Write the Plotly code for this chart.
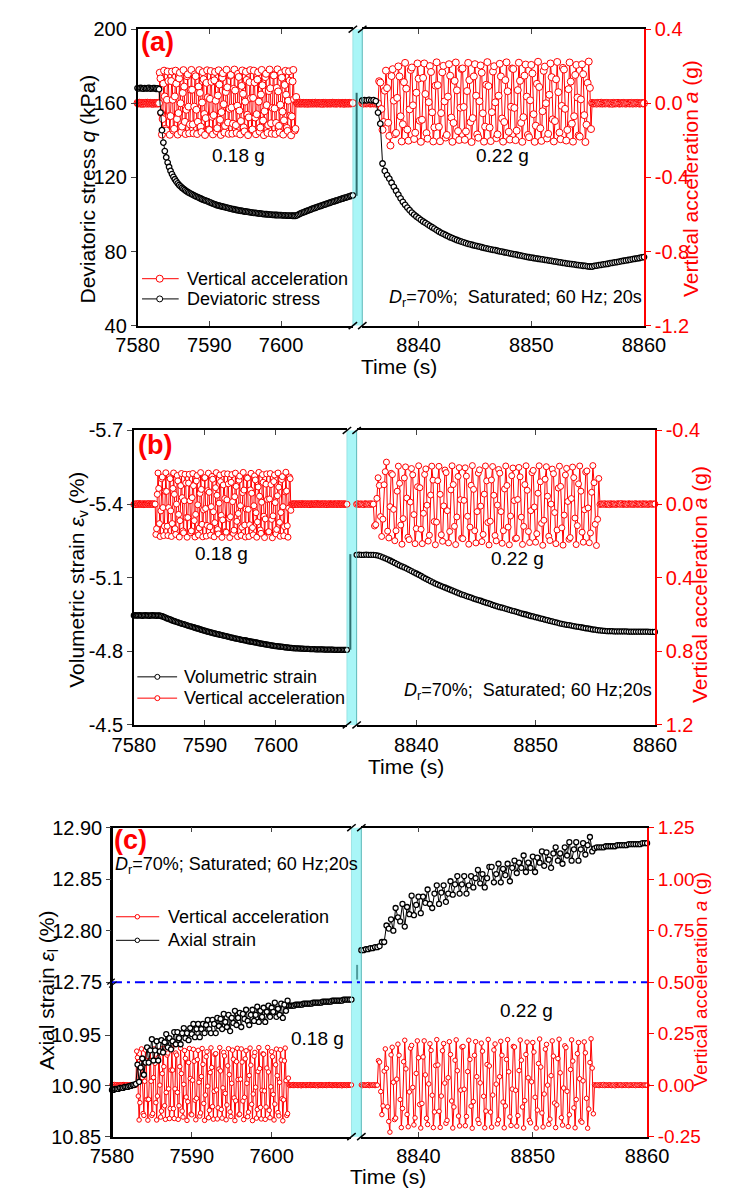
import plotly.graph_objects as go

# ---------------------------------------------------------------- data
# time bases (s): the left block of each panel starts at 7580 s, the right block at 8835 s
T_LEFT0 = 7580.0
T_RIGHT0 = 8835.0
DT_ACC = 0.1      # acceleration record step
DT_SLOW = 0.2     # stress / strain record step

# vertical acceleration a (g), first shaking event (0.18 g), from 7580.0 s
ACC_1 = [
    # quiet
    0.002, -0.001, 0.001, 0.003, -0.002, 0.000, 0.002, -0.003, 0.001, 0.000,
    -0.001, 0.002, 0.001, -0.002, 0.003, 0.000, -0.001, 0.001, 0.002, -0.002,
    0.000, 0.001, -0.003, 0.002, 0.001, -0.001, 0.000, 0.002, -0.002, 0.001,
    # shaking
    0.000, 0.165, 0.134, -0.053, -0.169, -0.085, 0.106, 0.176, 0.037, -0.138,
    -0.147, 0.019, 0.171, 0.120, -0.069, -0.170, -0.069, 0.120, 0.171, 0.019,
    -0.147, -0.138, 0.037, 0.176, 0.106, -0.085, -0.169, -0.053, 0.134, 0.165,
    0.000, -0.155, -0.126, 0.056, 0.179, 0.090, -0.100, -0.166, -0.035, 0.146,
    0.156, -0.018, -0.162, -0.114, 0.073, 0.180, 0.073, -0.114, -0.162, -0.018,
    0.156, 0.146, -0.035, -0.166, -0.100, 0.090, 0.179, 0.056, -0.126, -0.155,
    0.004, 0.168, 0.130, -0.058, -0.171, -0.080, 0.110, 0.178, 0.032, -0.141,
    -0.144, 0.024, 0.174, 0.116, -0.073, -0.168, -0.064, 0.124, 0.169, 0.014,
    -0.150, -0.135, 0.042, 0.178, 0.101, -0.089, -0.171, -0.048, 0.138, 0.162,
    -0.005, -0.158, -0.122, 0.061, 0.181, 0.086, -0.104, -0.165, -0.030, 0.149,
    0.153, -0.023, -0.164, -0.110, 0.078, 0.182, 0.069, -0.118, -0.160, -0.013,
    0.159, 0.142, -0.040, -0.168, -0.096, 0.094, 0.177, 0.051, -0.130, -0.152,
    0.009, 0.170, 0.126, -0.062, -0.172, -0.076, 0.114, 0.179, 0.027, -0.144,
    -0.141, 0.029, 0.176, 0.112, -0.077, -0.167, -0.059, 0.128, 0.167, 0.009,
    -0.153, -0.131, 0.047, 0.180, 0.097, -0.093, -0.172, -0.043, 0.141, 0.159,
    -0.010, -0.160, -0.118, 0.066, 0.182, 0.081, -0.108, -0.164, -0.025, 0.152,
    0.150, -0.028, -0.166, -0.106, 0.083, 0.183, 0.064, -0.122, -0.158, -0.008,
    0.162, 0.138, -0.045, -0.169, -0.092, 0.099, 0.175, 0.046, -0.133, -0.149,
    0.014, 0.172, 0.122, -0.066, -0.173, -0.071, 0.118, 0.180, 0.022, -0.147,
    -0.138, 0.034,
    # quiet
    0.002, -0.002, 0.001, 0.000, -0.001, 0.003, -0.002, 0.001, 0.000, 0.002,
    -0.001, -0.002, 0.001, 0.002, 0.000, -0.003, 0.001, 0.002, -0.001, 0.000,
    0.001, -0.002, 0.002, 0.000, -0.001, 0.001, 0.003, -0.002, 0.000, 0.001,
    -0.001, 0.002, 0.000, -0.002, 0.001, 0.001, -0.003, 0.002, 0.000, -0.001,
    0.002, 0.001, -0.002, 0.000, 0.001, -0.001, 0.002, -0.002, 0.001, 0.000,
    0.003, -0.001, 0.000, 0.002, -0.002, 0.001, -0.001, 0.000, 0.002, 0.001,
    -0.002, 0.000, 0.001, -0.001, 0.002, 0.000, -0.003, 0.001, 0.002, -0.001,
    0.000, 0.001, -0.002, 0.002, 0.000, -0.001, 0.001, 0.000, 0.001,
]

# vertical acceleration a (g), second shaking event (0.22 g), from 8835.0 s
ACC_2 = [
    # quiet
    0.001, -0.002, 0.002, 0.000, -0.001, 0.001, 0.003, -0.002, 0.000, 0.001,
    -0.001, 0.002, -0.002, 0.001,
    # shaking
    0.000, 0.119, 0.112, -0.031, -0.143, -0.101, 0.068, 0.176, 0.082, -0.105,
    -0.176, -0.228, 0.147, 0.184, 0.014, -0.167, -0.160, 0.029, 0.199, 0.145,
    -0.070, -0.206, -0.113, 0.114, 0.218, 0.079, -0.142, -0.202, -0.033, 0.180,
    0.193, -0.011, -0.193, -0.159, 0.057, 0.215, 0.133, -0.094, -0.208, -0.089,
    0.137, 0.215, 0.050, -0.161, -0.191,
    0.006, 0.201, 0.169, -0.049, -0.206, -0.130, 0.095, 0.221, 0.098, -0.127,
    -0.205, -0.053, 0.167, 0.202, 0.010, -0.185, -0.171, 0.036, 0.211, 0.149,
    -0.077, -0.208, -0.106, 0.121, 0.220, 0.070, -0.150, -0.198, -0.024, 0.185,
    0.188, -0.020, -0.197, -0.152, 0.066, 0.218, 0.125, -0.102, -0.209, -0.080,
    0.145, 0.211, 0.041, -0.168, -0.186,
    0.011, 0.204, 0.165, -0.054, -0.207, -0.126, 0.100, 0.222, 0.093, -0.131,
    -0.204, -0.048, 0.171, 0.200, 0.005, -0.188, -0.168, 0.041, 0.213, 0.145,
    -0.082, -0.207, -0.101, 0.125, 0.221, 0.065, -0.154, -0.196, -0.019, 0.188,
    0.185, -0.025, -0.199, -0.148, 0.071, 0.219, 0.121, -0.106, -0.208, -0.075,
    0.149, 0.209, 0.036, -0.171, -0.183,
    0.016, 0.207, 0.161, -0.059, -0.208, -0.121, 0.105, 0.224, 0.088, -0.135,
    -0.203, -0.043, 0.175, 0.198, 0.000, -0.190, -0.165, 0.046, 0.215, 0.141,
    -0.087, -0.206, -0.096, 0.129, 0.223, 0.060, -0.158, -0.194, -0.014, 0.191,
    0.182, -0.030, -0.201, -0.144, 0.076, 0.220, 0.117, -0.110, -0.207, -0.070,
    0.153, 0.207, 0.031, -0.174, -0.180,
    0.021, 0.210, 0.157, -0.064, -0.209, -0.116, 0.110, 0.225, 0.083, -0.139,
    # quiet
    0.002, -0.001, 0.000, 0.001, -0.002, 0.002, 0.000, -0.001, 0.003, -0.002,
    0.001, 0.000, -0.001, 0.002, 0.001, -0.002, 0.000, 0.001, -0.003, 0.002,
    0.000, -0.001, 0.001, 0.002, -0.002, 0.000, 0.001, -0.001, 0.002, 0.000,
    -0.002, 0.001, 0.001, -0.001, 0.000, 0.002, -0.002, 0.001, 0.000, -0.001,
    0.002, 0.001, -0.002, 0.000, 0.001, -0.001, 0.000,
]

# deviatoric stress q (kPa)
Q_1 = [
    168.2, 168.0, 168.3, 168.1, 167.9, 168.2, 168.0, 168.1, 168.3, 167.9,
    168.0, 168.2, 168.1, 167.8, 168.0, 167.6,
    155.0, 145.5, 138.8, 134.2, 130.8, 128.0, 125.6, 123.5, 121.8, 120.3,
    119.0, 117.8, 116.8, 115.9, 115.1, 114.4, 113.8, 113.2, 112.6, 112.1,
    111.6, 111.2, 110.8, 110.4,
    110.0, 109.6, 109.3, 108.9, 108.6, 108.2, 107.9, 107.6, 107.3, 107.0,
    106.7, 106.4, 106.0, 105.7, 105.4, 105.1, 104.9, 104.7, 104.5, 104.3,
    104.1, 103.9, 103.7, 103.5, 103.3, 103.1, 102.9, 102.8, 102.6, 102.4,
    102.3, 102.1, 102.0, 101.9, 101.7, 101.6, 101.5, 101.4, 101.2, 101.1,
    101.0, 100.9, 100.8, 100.7, 100.6, 100.5, 100.4, 100.3, 100.2, 100.2,
    100.1, 100.0, 99.9, 99.9, 99.8, 99.8, 99.7, 99.7, 99.6, 99.6,
    99.6, 99.5, 99.5, 99.5, 99.4, 99.4, 99.4, 99.4, 99.3, 99.3,
    99.3,
    99.5, 99.9, 100.3, 100.7, 101.0, 101.3, 101.6, 101.9, 102.2, 102.5,
    102.8, 103.1, 103.4, 103.6, 103.9, 104.2, 104.5, 104.7, 105.0, 105.3,
    105.5, 105.8, 106.1, 106.3, 106.6, 106.9, 107.1, 107.4, 107.6, 107.9,
    108.1, 108.4, 108.6, 108.9, 109.1, 109.4, 109.6, 109.9, 110.1, 110.3,
]
Q_2 = [
    161.5, 161.7, 161.6, 161.8, 161.6, 161.7, 161.2, 155.0, 149.0,
    127.5, 123.5, 121.2, 119.3, 117.1, 114.9, 112.8, 110.7, 108.7, 106.8,
    105.2, 103.7, 102.3, 101.0, 99.9, 98.9, 98.0, 97.1, 96.2, 95.4,
    94.6, 93.8, 93.1, 92.4,
    91.5, 90.8, 90.1, 89.5, 88.9, 88.3, 87.7, 87.2, 86.7, 86.2,
    85.7, 85.3, 84.9, 84.5, 84.1, 83.8, 83.5, 83.2, 82.9, 82.6,
    82.3, 82.0, 81.7, 81.4, 81.2, 80.9, 80.7, 80.4, 80.1, 79.9,
    79.6, 79.4, 79.1, 78.9, 78.6, 78.4, 78.1, 77.9, 77.6, 77.4,
    77.1, 76.9, 76.7, 76.5, 76.3, 76.1, 75.9, 75.7, 75.5, 75.3,
    75.1, 74.9, 74.7, 74.5, 74.3, 74.1, 73.9, 73.7, 73.5, 73.3,
    73.2, 73.0, 72.8, 72.7, 72.5, 72.3, 72.2, 72.0, 71.9, 71.9,
    72.2, 72.4, 72.6, 72.8, 73.0, 73.2, 73.4, 73.7, 73.9, 74.1,
    74.3, 74.5, 74.8, 75.0, 75.2, 75.4, 75.6, 75.9, 76.1, 76.3,
    76.5, 76.8, 77.0,
]

# volumetric strain (%)
EV_1 = [
    -4.946, -4.947, -4.946, -4.946, -4.947, -4.946, -4.945, -4.946, -4.947, -4.946,
    -4.946, -4.945, -4.946, -4.947, -4.946, -4.946, -4.945, -4.946, -4.946,
    -4.944, -4.943, -4.940, -4.938, -4.935, -4.933, -4.931, -4.929, -4.926, -4.924,
    -4.922, -4.920, -4.918, -4.916,
    -4.914, -4.912, -4.911, -4.909, -4.907, -4.905, -4.903, -4.902, -4.900, -4.898,
    -4.896, -4.894, -4.893, -4.891, -4.889, -4.887, -4.885, -4.884, -4.882, -4.880,
    -4.879, -4.877,
    -4.876, -4.874, -4.873, -4.871, -4.870, -4.869, -4.867, -4.866, -4.864, -4.863,
    -4.862, -4.860, -4.859, -4.857, -4.856, -4.855, -4.853, -4.852, -4.851, -4.850,
    -4.848, -4.847,
    -4.846, -4.845, -4.844, -4.842, -4.841, -4.840, -4.839, -4.838, -4.837, -4.836,
    -4.835, -4.833, -4.832, -4.831, -4.830, -4.829, -4.828, -4.827, -4.826, -4.825,
    -4.824, -4.823, -4.822,
    -4.821, -4.821, -4.820, -4.819, -4.819, -4.818, -4.817, -4.816, -4.816, -4.815,
    -4.814, -4.814, -4.813,
    -4.813, -4.812, -4.812, -4.812, -4.811, -4.811, -4.811, -4.810, -4.810, -4.810,
    -4.810, -4.809, -4.809, -4.809, -4.809, -4.808, -4.808, -4.808, -4.808, -4.808,
    -4.808, -4.807, -4.807, -4.807, -4.807, -4.807, -4.807, -4.807, -4.806, -4.806,
    -4.806, -4.806, -4.806, -4.806, -4.806, -4.806, -4.806, -4.806,
]
EV_2 = [
    -5.193, -5.194, -5.193, -5.193, -5.194, -5.193, -5.193, -5.193, -5.192,
    -5.190, -5.187, -5.183, -5.179, -5.175, -5.170, -5.165, -5.160, -5.155, -5.150,
    -5.146, -5.142,
    -5.137, -5.132, -5.127, -5.122, -5.117, -5.112, -5.107, -5.101, -5.096, -5.091,
    -5.086, -5.081, -5.076,
    -5.072, -5.068, -5.064, -5.060, -5.056, -5.052, -5.048, -5.044, -5.040, -5.036,
    -5.032, -5.029, -5.025,
    -5.022, -5.019, -5.015, -5.012, -5.009, -5.006, -5.002, -4.999, -4.996, -4.993,
    -4.989, -4.986, -4.983,
    -4.980, -4.978, -4.975, -4.972, -4.969, -4.966, -4.964, -4.961, -4.958, -4.955,
    -4.952, -4.950, -4.947, -4.944,
    -4.942, -4.939, -4.937, -4.934, -4.932, -4.929, -4.927, -4.924, -4.922, -4.919,
    -4.917, -4.914, -4.912,
    -4.910, -4.908, -4.907, -4.905, -4.903, -4.901, -4.900, -4.898, -4.896, -4.894,
    -4.893, -4.891, -4.889,
    -4.888, -4.886, -4.885, -4.884, -4.883, -4.882,
    -4.882, -4.882, -4.881, -4.881, -4.881, -4.881, -4.881, -4.881, -4.880, -4.880,
    -4.880, -4.880, -4.880, -4.880, -4.880, -4.880, -4.880, -4.879, -4.879, -4.879,
]

# axial strain (%)
EL_1 = [
    10.896, 10.896, 10.897, 10.897, 10.897, 10.898, 10.898, 10.898, 10.899, 10.899,
    10.899, 10.900, 10.900, 10.901, 10.901, 10.902,
    10.921, 10.904, 10.918, 10.927, 10.911, 10.923, 10.938, 10.923, 10.935, 10.946,
    10.925, 10.935, 10.944, 10.925, 10.934, 10.945, 10.933, 10.943, 10.951, 10.938,
    10.947, 10.936, 10.944, 10.953,
    10.941, 10.953, 10.947, 10.941, 10.952, 10.957, 10.947, 10.952, 10.945, 10.957,
    10.951, 10.961, 10.948, 10.956, 10.961, 10.948, 10.956, 10.961, 10.952, 10.960,
    10.965, 10.956, 10.952, 10.965,
    10.961, 10.952, 10.967, 10.959, 10.966, 10.956, 10.971, 10.963, 10.958, 10.970,
    10.954, 10.967, 10.962, 10.974, 10.960, 10.967, 10.972, 10.958, 10.971, 10.966,
    10.975, 10.964, 10.960, 10.970,
    10.975, 10.964, 10.970, 10.978, 10.963, 10.974, 10.968, 10.977, 10.963, 10.973,
    10.979, 10.968, 10.977, 10.973, 10.982, 10.968, 10.976, 10.970, 10.981, 10.967,
    10.980, 10.974, 10.984,
    10.979,
    10.979, 10.979, 10.979, 10.980, 10.980, 10.980, 10.980, 10.980, 10.981, 10.981,
    10.981, 10.981, 10.981, 10.981, 10.982, 10.982, 10.982, 10.982, 10.982, 10.982,
    10.983, 10.983, 10.983, 10.983, 10.983, 10.983, 10.984, 10.984, 10.984, 10.984,
    10.984, 10.984, 10.984, 10.985, 10.985, 10.985, 10.985, 10.985, 10.985,
]
EL_2 = [
    12.781, 12.781, 12.782, 12.782, 12.783, 12.783, 12.784, 12.784, 12.785,
    12.789, 12.789, 12.805, 12.802, 12.811, 12.800, 12.822, 12.813, 12.809, 12.826,
    12.804, 12.823, 12.816, 12.834, 12.815, 12.825, 12.833, 12.817, 12.833, 12.827,
    12.840, 12.826, 12.822, 12.836,
    12.844, 12.826, 12.837, 12.844, 12.828, 12.836, 12.848, 12.835, 12.845, 12.853,
    12.836, 12.845, 12.853, 12.836, 12.844, 12.853, 12.842, 12.851, 12.859, 12.846,
    12.855, 12.842, 12.851, 12.862,
    12.862, 12.847, 12.855, 12.865, 12.847, 12.860, 12.854, 12.865, 12.848, 12.861,
    12.868, 12.856, 12.866, 12.861, 12.873, 12.857, 12.866, 12.861, 12.872, 12.857,
    12.871, 12.866, 12.877,
    12.863, 12.876, 12.869, 12.861, 12.875, 12.881, 12.868, 12.875, 12.865, 12.881,
    12.873, 12.886, 12.868, 12.879, 12.886, 12.868, 12.879, 12.885, 12.874, 12.883,
    12.891, 12.877,
    12.880, 12.881, 12.881, 12.881, 12.881, 12.882, 12.882, 12.882, 12.882, 12.882,
    12.883, 12.883, 12.883, 12.883, 12.883, 12.884, 12.884, 12.884, 12.884, 12.884,
    12.884, 12.885, 12.885, 12.885,
]

# tick values / labels
X_TICKS_LEFT = [7580, 7590, 7600]
X_TICKS_RIGHT = [8840, 8850, 8860]
Q_TICKS = [40, 80, 120, 160, 200]
ACC_TICKS_A = [-1.2, -0.8, -0.4, 0.0, 0.4]
EV_TICKS = [-5.7, -5.4, -5.1, -4.8, -4.5]
ACC_TICKS_B = [-0.4, 0.0, 0.4, 0.8, 1.2]
EL_TICKS_LOW = [10.85, 10.90, 10.95]
EL_TICKS_HIGH = [12.75, 12.80, 12.85, 12.90]
ACC_TICKS_C = [-0.25, 0.00, 0.25, 0.50, 0.75, 1.00, 1.25]


def times(t0, dt, n):
    return [round(t0 + dt * i, 3) for i in range(n)]


t_acc_1 = times(T_LEFT0, DT_ACC, len(ACC_1))
t_acc_2 = times(T_RIGHT0, DT_ACC, len(ACC_2))
t_slow_1 = times(T_LEFT0, DT_SLOW, len(Q_1))
t_slow_2 = times(T_RIGHT0, DT_SLOW, len(Q_2))

# ---------------------------------------------------------------- layout helpers
W, H = 733, 1198
FONT = "Liberation Sans, Arial, sans-serif"
RED = "#ff0000"
BLACK = "#000000"
BAND = "#a9f6f7"
BAND_EDGE = "#5cb8b8"
LINK = "#2f6f6f"

TICK_SIZE = 20
TITLE_SIZE = 21
LEGEND_SIZE = 18
NOTE_SIZE = 19


def px(x):
    return x / W


def py(y):
    return 1 - y / H


def fmt(vals, nd):
    return [f"{v:.{nd}f}" for v in vals]


# panel frames in pixels: left, band start, band end, right, top, bottom
PANELS = {
    "a": dict(l=122.9, b0=352.0, b1=362.0, r=661.7, t=18.5, bt=320.5),
    "b": dict(l=119.0, b0=345.7, b1=356.0, r=673.3, t=427.3, bt=727.3),
    "c": dict(l=95.7, b0=350.5, b1=361.0, r=665.0, t=832.0, bt=1146.7),
}

fig = go.Figure()


def series(x, y, xa, ya, color, size, edge=1.0):
    fig.add_trace(go.Scatter(
        x=x, y=y, xaxis=xa, yaxis=ya, mode="lines+markers",
        line=dict(color=color, width=1),
        marker=dict(symbol="circle", size=size, color="white",
                    line=dict(color=color, width=edge)),
        showlegend=False, cliponaxis=False, hoverinfo="skip"))


# panel (a)
series(t_acc_1, ACC_1, "x", "y", RED, 7)
series(t_slow_1, Q_1, "x", "y2", BLACK, 5.5, 1.3)
series(t_acc_2, ACC_2, "x2", "y3", RED, 7)
series(t_slow_2, Q_2, "x2", "y4", BLACK, 5.5, 1.3)
# panel (b)
series(t_acc_1, ACC_1, "x3", "y5", RED, 6)
series(t_slow_1, EV_1, "x3", "y6", BLACK, 5, 1.3)
series(t_acc_2, ACC_2, "x4", "y7", RED, 6)
series(t_slow_2, EV_2, "x4", "y8", BLACK, 5, 1.3)
# panel (c)
series(t_acc_1, ACC_1, "x5", "y9", RED, 4.5)
series(t_slow_1, EL_1, "x5", "y10", BLACK, 5, 1.3)
series(t_acc_2, ACC_2, "x6", "y11", RED, 4.5)
series(t_slow_2, EL_2, "x6", "y12", BLACK, 5, 1.3)

TICKFONT = dict(family=FONT, size=TICK_SIZE, color=BLACK)


def xaxis(p, side, anchor):
    g = PANELS[p]
    if side == "L":
        dom, rng, tv = [px(g["l"]), px(g["b0"])], [7580, 7610], X_TICKS_LEFT
    else:
        dom, rng, tv = [px(g["b1"]), px(g["r"])], [8835, 8860], X_TICKS_RIGHT
    return dict(domain=dom, range=rng, anchor=anchor, tickvals=tv,
                ticktext=[str(v) for v in tv], ticks="inside", ticklen=5,
                tickwidth=1.2, mirror="ticks", showline=True, linecolor=BLACK,
                linewidth=1.5, showgrid=False, zeroline=False, tickfont=TICKFONT,
                ticklabelstandoff=1)


def ydom(p):
    g = PANELS[p]
    return [py(g["bt"]), py(g["t"])]


def yleft(rng, tv, nd, anchor, overlay, **kw):
    d = dict(range=rng, anchor=anchor, overlaying=overlay, side="left",
             tickvals=tv, ticktext=fmt(tv, nd) if nd is not None else [str(v) for v in tv],
             ticks="outside", ticklen=5, tickwidth=1.2, showline=True,
             linecolor=BLACK, linewidth=1.5, showgrid=False, zeroline=False,
             tickfont=TICKFONT)
    d.update(kw)
    return d


def yright(p, rng, tv, nd, anchor, size=TICK_SIZE):
    return dict(domain=ydom(p), range=rng, anchor=anchor, side="right",
                tickvals=tv, ticktext=fmt(tv, nd), ticks="outside", ticklen=5,
                tickwidth=1.2, tickcolor=RED, showline=True, linecolor=RED,
                linewidth=1.5, showgrid=False, zeroline=False,
                tickfont=dict(family=FONT, size=size, color=RED))


def hidden(rng, anchor, overlay=None, dom=None):
    d = dict(range=rng, anchor=anchor, visible=False, showgrid=False, zeroline=False)
    if overlay:
        d["overlaying"] = overlay
    if dom:
        d["domain"] = dom
    return d


gc = PANELS["c"]
brk_px = 989.3
# broken strain axis in (c): same pixel scale on both sides of the break
el_low_top = 10.85 + (gc["bt"] - gc["t"]) * (0.10 / (gc["bt"] - 1043.3))
el_high_bottom = 12.75 - (gc["bt"] - brk_px) * (0.15 / (brk_px - gc["t"]))

fig.update_layout(
    xaxis=xaxis("a", "L", "y"), xaxis2=xaxis("a", "R", "y3"),
    xaxis3=xaxis("b", "L", "y5"), xaxis4=xaxis("b", "R", "y7"),
    xaxis5=xaxis("c", "L", "y9"), xaxis6=xaxis("c", "R", "y11"),
    # (a)
    yaxis=hidden([-1.2, 0.4], "x", dom=ydom("a")),
    yaxis2=yleft([40, 200], Q_TICKS, None, "x", "y"),
    yaxis3=yright("a", [-1.2, 0.4], ACC_TICKS_A, 1, "x2"),
    yaxis4=hidden([40, 200], "x2", overlay="y3"),
    # (b)
    yaxis5=hidden([1.2, -0.4], "x3", dom=ydom("b")),
    yaxis6=yleft([-4.5, -5.7], EV_TICKS, 1, "x3", "y5"),
    yaxis7=yright("b", [1.2, -0.4], ACC_TICKS_B, 1, "x4"),
    yaxis8=hidden([-4.5, -5.7], "x4", overlay="y7"),
    # (c)
    yaxis9=hidden([-0.25, 1.25], "x5", dom=ydom("c")),
    yaxis10=yleft([10.85, el_low_top], EL_TICKS_LOW, 2, "x5", "y9"),
    yaxis11=yright("c", [-0.25, 1.25], ACC_TICKS_C, 2, "x6", size=19),
    yaxis12=yleft([el_high_bottom, 12.90], EL_TICKS_HIGH, 2, "free", "y11",
                  position=px(gc["l"])),
)

shapes = []
annotations = []


def seg(x0, y0, x1, y1, color=BLACK, width=1.5, dash=None, layer="above"):
    line = dict(color=color, width=width)
    if dash:
        line["dash"] = dash
    shapes.append(dict(type="line", xref="paper", yref="paper", x0=px(x0), y0=py(y0),
                       x1=px(x1), y1=py(y1), line=line, layer=layer))


def text(x, y, s, size=NOTE_SIZE, color=BLACK, xanchor="center", angle=0, bold=False):
    if bold:
        s = f"<b>{s}</b>"
    annotations.append(dict(xref="paper", yref="paper", x=px(x), y=py(y), text=s,
                            showarrow=False, xanchor=xanchor, yanchor="middle",
                            textangle=angle, font=dict(family=FONT, size=size, color=color)))


def legend_row(x0, x1, xc, y, xt, label, color, size):
    seg(x0, y, x1, y, color=color, width=1)
    r = size / 2
    shapes.append(dict(type="circle", xref="paper", yref="paper", xsizemode="pixel",
                       ysizemode="pixel", xanchor=px(xc), yanchor=py(y),
                       x0=-r, x1=r, y0=-r, y1=r, fillcolor="white",
                       line=dict(color=color, width=1), layer="above"))
    text(xt, y, label, size=LEGEND_SIZE, xanchor="left")


# axis break band, break marks
for key, g in PANELS.items():
    shapes.append(dict(type="rect", xref="paper", yref="paper", x0=px(g["b0"]),
                       x1=px(g["b1"]), y0=py(g["bt"]), y1=py(g["t"]),
                       fillcolor=BAND, line=dict(width=0), layer="below"))
    seg(g["b1"], g["t"], g["b1"], g["bt"], color=BAND_EDGE, width=1)
    seg(g["b0"], g["t"], g["b0"], g["bt"], color="#8fdede", width=0.8)
    for xb in (g["b0"], g["b1"]):
        for yb in (g["t"], g["bt"]):
            seg(xb - 4.5, yb + 3.5, xb + 4.5, yb - 3.5, width=1.5)

# lines joining the two time blocks across the break
seg(356.0, 83.3, 356.0, 188.3, color=LINK, width=2)
seg(349.3, 553.3, 349.3, 650.7, color=LINK, width=2)
seg(356.5, 971.7, 356.5, 986.7, color="#4f9c9c", width=2)

# split of the strain axis in (c)
seg(gc["l"], brk_px, gc["r"], brk_px, color="#0000ff", width=2, dash="10px,5px,3px,5px")
seg(gc["l"] - 5, brk_px + 2.5, gc["l"] + 3, brk_px - 3.5, width=1.2)
seg(gc["l"] - 3, brk_px + 5.5, gc["l"] + 5, brk_px - 0.5, width=1.2)

# panel letters
text(124, 32, "(a)", size=27, color=RED, xanchor="left", bold=True)
text(121, 442, "(b)", size=27, color=RED, xanchor="left", bold=True)
text(96, 845, "(c)", size=27, color=RED, xanchor="left", bold=True)

# event labels
text(230, 147, "0.18 g")
text(511, 147, "0.22 g")
text(212.5, 553, "0.18 g")
text(527.5, 558, "0.22 g")
text(314, 1047, "0.18 g")
text(537, 1018, "0.22 g")

# test conditions
NB = "\u00a0"
text(525, 293, f"<i>D</i><sub>r</sub>=70%;{NB}{NB}Saturated; 60 Hz; 20s", size=LEGEND_SIZE)
text(672, 693, f"<i>D</i><sub>r</sub>=70%;{NB}{NB}Saturated; 60 Hz;20s", size=LEGEND_SIZE,
     xanchor="right")
text(97, 870, "<i>D</i><sub>r</sub>=70%; Saturated; 60 Hz;20s", size=LEGEND_SIZE,
     xanchor="left")

# axis titles
text(70, 181, "Deviatoric stress <i>q</i> (kPa)", size=TITLE_SIZE, angle=-90)
text(712, 171, "Vertical acceleration <i>a</i> (g)", size=TITLE_SIZE, color=RED, angle=-90)
text(60, 579, "Volumetric strain <i>ε</i><sub>v</sub> (%)", size=TITLE_SIZE, angle=-90)
text(720, 584, "Vertical acceleration <i>a</i> (g)", size=TITLE_SIZE, color=RED, angle=-90)
text(27, 997, "Axial strain <i>ε</i><sub>l</sub> (%)", size=TITLE_SIZE, angle=-90)
text(722, 987, "Vertical acceleration <i>a</i> (g)", size=19, color=RED, angle=-90)
text(401, 362, "Time (s)", size=TITLE_SIZE)
text(408, 770, "Time (s)", size=TITLE_SIZE)
text(389, 1187, "Time (s)", size=TITLE_SIZE)

# legends
legend_row(127.7, 166.7, 146.5, 272.7, 173.3, "Vertical acceleration", RED, 7)
legend_row(127.7, 166.7, 146.5, 293.3, 173.3, "Deviatoric stress", BLACK, 6)
legend_row(122.7, 165.0, 144.0, 678.3, 170.0, "Volumetric strain", BLACK, 5)
legend_row(122.7, 165.0, 144.0, 700.0, 170.0, "Vertical acceleration", RED, 5)
legend_row(100.0, 146.0, 122.7, 922.7, 152.7, "Vertical acceleration", RED, 4.5)
legend_row(100.0, 146.0, 122.7, 946.7, 152.7, "Axial strain", BLACK, 4.5)

fig.update_layout(
    width=W, height=H, autosize=False,
    margin=dict(l=0, r=0, t=0, b=0),
    paper_bgcolor="white", plot_bgcolor="rgba(0,0,0,0)",
    showlegend=False,
    font=dict(family=FONT, size=LEGEND_SIZE, color=BLACK),
    shapes=shapes, annotations=annotations,
)

fig.write_html("out.html")
